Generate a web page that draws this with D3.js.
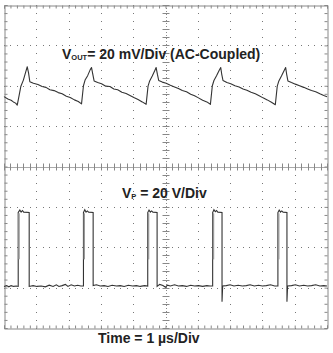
<!DOCTYPE html>
<html>
<head>
<meta charset="utf-8">
<title>Vout and VP waveforms</title>
<style>
  body { margin: 0; background: #fff; }
  svg { display: block; }
  text { font-family: "Liberation Sans", Arial, sans-serif; font-weight: bold; fill: #222; }
</style>
</head>
<body>
<svg width="333" height="353"></svg>
<script src="https://d3js.org/d3.v7.min.js"></script>
<script>
// time in divisions (1 us/div), level in divisions from screen centre
const voutT = [0, 0.12, 0.22, 0.29, 0.36, 0.41, 0.47, 0.52, 0.60, 0.68, 0.72, 0.76, 0.80, 0.91, 1.05, 1.18, 1.30, 1.42, 1.55, 1.68, 1.80, 1.93, 2.05, 2.18, 2.30, 2.40,
  2.46, 2.51, 2.59, 2.67, 2.71, 2.75, 2.79, 2.90, 3.02, 3.15, 3.28, 3.40, 3.52, 3.65, 3.78, 3.90, 4.02, 4.15, 4.28, 4.40,
  4.46, 4.51, 4.59, 4.67, 4.71, 4.75, 4.79, 4.90, 5.02, 5.15, 5.28, 5.40, 5.52, 5.65, 5.78, 5.90, 6.02, 6.15, 6.28, 6.39,
  6.45, 6.50, 6.58, 6.66, 6.71, 6.74, 6.78, 6.90, 7.02, 7.15, 7.28, 7.40, 7.52, 7.65, 7.78, 7.90, 8.02, 8.15, 8.28, 8.40,
  8.46, 8.51, 8.59, 8.67, 8.72, 8.75, 8.79, 8.90, 9.02, 9.15, 9.28, 9.40, 9.52, 9.65, 9.78, 9.90, 10.0];
const voutV = [1.73, 1.67, 1.64, 1.60, 1.57, 1.52, 1.77, 1.98, 2.14, 2.36, 2.47, 2.32, 2.10, 2.06, 2.03, 1.98, 1.96, 1.90, 1.88, 1.83, 1.80, 1.74, 1.71, 1.65, 1.61, 1.55,
  2.00, 2.14, 2.25, 2.40, 2.45, 2.28, 2.12, 2.08, 2.05, 1.99, 1.98, 1.92, 1.90, 1.84, 1.81, 1.76, 1.71, 1.66, 1.60, 1.54,
  1.99, 2.12, 2.24, 2.38, 2.45, 2.28, 2.13, 2.09, 2.06, 2.01, 1.97, 1.93, 1.88, 1.85, 1.79, 1.75, 1.70, 1.64, 1.60, 1.54,
  2.00, 2.13, 2.25, 2.38, 2.45, 2.29, 2.13, 2.08, 2.05, 2.00, 1.97, 1.92, 1.89, 1.84, 1.80, 1.75, 1.70, 1.65, 1.59, 1.53,
  1.99, 2.12, 2.24, 2.37, 2.45, 2.29, 2.12, 2.08, 2.04, 2.00, 1.96, 1.92, 1.88, 1.85, 1.80, 1.76, 1.73];

const vpT = [0, 0.08, 0.15, 0.22, 0.30, 0.38, 0.44, 0.44, 0.49, 0.53, 0.57, 0.61, 0.78, 0.78,
  0.90, 1.02, 1.15, 1.28, 1.40, 1.52, 1.62, 1.70, 1.80, 1.90, 1.98, 2.08, 2.18, 2.28, 2.38, 2.46, 2.46, 2.50, 2.54, 2.58, 2.62, 2.76, 2.76,
  2.86, 2.98, 3.10, 3.22, 3.35, 3.48, 3.60, 3.72, 3.85, 3.98, 4.10, 4.22, 4.35, 4.45, 4.45, 4.49, 4.53, 4.57, 4.61, 4.74, 4.74,
  4.82, 4.92, 5.00, 5.06, 5.15, 5.28, 5.40, 5.52, 5.65, 5.78, 5.90, 6.02, 6.15, 6.28, 6.38, 6.46, 6.46, 6.50, 6.54, 6.58, 6.62, 6.75, 6.75, 6.77,
  6.88, 7.00, 7.12, 7.25, 7.38, 7.50, 7.62, 7.75, 7.88, 8.00, 8.12, 8.25, 8.38, 8.48, 8.48, 8.52, 8.56, 8.60, 8.64, 8.76, 8.76, 8.78,
  8.90, 9.02, 9.15, 9.28, 9.40, 9.52, 9.65, 9.78, 9.90, 10.0];
const vpV = [-2.97, -2.95, -2.98, -2.95, -2.97, -2.96, -2.97, -1.14, -1.08, -1.13, -1.09, -1.13, -1.14, -2.97,
  -2.95, -2.97, -2.96, -2.98, -2.94, -2.97, -2.93, -2.97, -2.95, -2.92, -2.97, -2.93, -2.96, -2.94, -2.96, -2.96, -1.14, -1.07, -1.13, -1.10, -1.13, -1.14, -2.95,
  -2.93, -2.96, -2.95, -2.97, -2.94, -2.96, -2.95, -2.97, -2.94, -2.96, -2.95, -2.97, -2.95, -2.96, -1.14, -1.08, -1.13, -1.10, -1.13, -1.14, -2.97,
  -2.92, -2.95, -2.99, -2.94, -2.96, -2.93, -2.96, -2.95, -2.97, -2.94, -2.96, -2.95, -2.97, -2.95, -2.96, -2.96, -1.14, -1.07, -1.12, -1.09, -1.13, -1.14, -3.35, -2.96,
  -2.95, -2.93, -2.96, -2.94, -2.96, -2.95, -2.93, -2.96, -2.94, -2.96, -2.95, -2.93, -2.96, -2.96, -1.14, -1.08, -1.13, -1.10, -1.13, -1.14, -3.35, -2.96,
  -2.95, -2.93, -2.96, -2.94, -2.96, -2.95, -2.93, -2.96, -2.95, -2.96];

const riseT = [0.44, 2.46, 4.45, 6.46, 8.48];

const titleVout = ["V", "OUT", "= 20 mV/Div (AC-Coupled)"];
const titleVp = ["V", "P", " = 20 V/Div"];
const titleTime = "Time = 1 \u00b5s/Div";

const svg = d3.select('svg');
const x = d3.scaleLinear().domain([0, 10]).range([4, 327]);
const y = d3.scaleLinear().domain([-4, 4]).range([328, 5]);
const px = v => Math.round(v) + 0.5;

const grid = svg.append('g');
const minorT = d3.range(0, 10.001, 0.2);
const minorV = d3.range(-4, 4.001, 0.2);

// dotted graticule
[-3, -2, -1, 1, 2, 3].forEach(v => {
  grid.selectAll(null).data(minorT).enter().append('rect')
    .attr('x', d => Math.round(x(d))).attr('y', Math.round(y(v)))
    .attr('width', 1).attr('height', 1).attr('fill', '#777');
});
[1, 2, 3, 4, 6, 7, 8, 9].forEach(t => {
  grid.selectAll(null).data(minorV).enter().append('rect')
    .attr('x', Math.round(x(t))).attr('y', d => Math.round(y(d)))
    .attr('width', 1).attr('height', 1).attr('fill', '#777');
});

// centre axes
grid.append('line').attr('x1', x(0)).attr('x2', x(10)).attr('y1', px(y(0))).attr('y2', px(y(0)))
  .attr('stroke', '#aaa');
grid.append('line').attr('x1', px(x(5))).attr('x2', px(x(5))).attr('y1', y(4)).attr('y2', y(-4))
  .attr('stroke', '#888').attr('stroke-dasharray', '1,2');
grid.selectAll(null).data(minorT).enter().append('line')
  .attr('x1', d => px(x(d))).attr('x2', d => px(x(d)))
  .attr('y1', y(0) - 3).attr('y2', y(0) + 4).attr('stroke', '#888');
grid.selectAll(null).data(minorV).enter().append('line')
  .attr('y1', d => px(y(d))).attr('y2', d => px(y(d)))
  .attr('x1', x(5) - 3).attr('x2', x(5) + 4).attr('stroke', '#888');

// frame with minor ticks
const tk = 3;
grid.append('g').attr('transform', `translate(0,${px(y(-4))})`)
  .call(d3.axisBottom(x).tickValues(minorT).tickSize(-tk).tickFormat(''));
grid.append('g').attr('transform', `translate(0,${px(y(4))})`)
  .call(d3.axisTop(x).tickValues(minorT).tickSize(-tk).tickFormat(''));
grid.append('g').attr('transform', `translate(${px(x(0))},0)`)
  .call(d3.axisLeft(y).tickValues(minorV).tickSize(-tk).tickFormat(''));
grid.append('g').attr('transform', `translate(${px(x(10))},0)`)
  .call(d3.axisRight(y).tickValues(minorV).tickSize(-tk).tickFormat(''));
grid.selectAll('.domain').attr('stroke', '#888');
grid.selectAll('.tick line').attr('stroke', '#888');

// traces
const line = d3.line().x(d => x(d[0])).y(d => y(d[1]));
svg.append('path').datum(d3.zip(voutT, voutV)).attr('d', line)
  .attr('fill', 'none').attr('stroke', '#333').attr('stroke-width', 1.1).attr('stroke-linejoin', 'round');
svg.append('path').datum(d3.zip(vpT, vpV)).attr('d', line)
  .attr('fill', 'none').attr('stroke', '#333').attr('stroke-width', 1.1);
svg.selectAll(null).data(riseT).enter().append('line')
  .attr('x1', d => x(d) + 0.8).attr('x2', d => x(d) + 0.8)
  .attr('y1', y(-1.16)).attr('y2', y(-2.3))
  .attr('stroke', '#999').attr('stroke-width', 1.5);

// labels
function label(parts, xp, yp) {
  const t = svg.append('text').attr('x', xp).attr('y', yp).attr('font-size', 14);
  t.append('tspan').text(parts[0]);
  t.append('tspan').attr('font-size', 7.5).attr('dy', 1).text(parts[1]);
  t.append('tspan').attr('dy', -1).text(parts[2]);
}
label(titleVout, 62, 59);
label(titleVp, 122, 198);
svg.append('text').attr('x', 98).attr('y', 343).attr('font-size', 14).text(titleTime);
</script>
</body>
</html>
